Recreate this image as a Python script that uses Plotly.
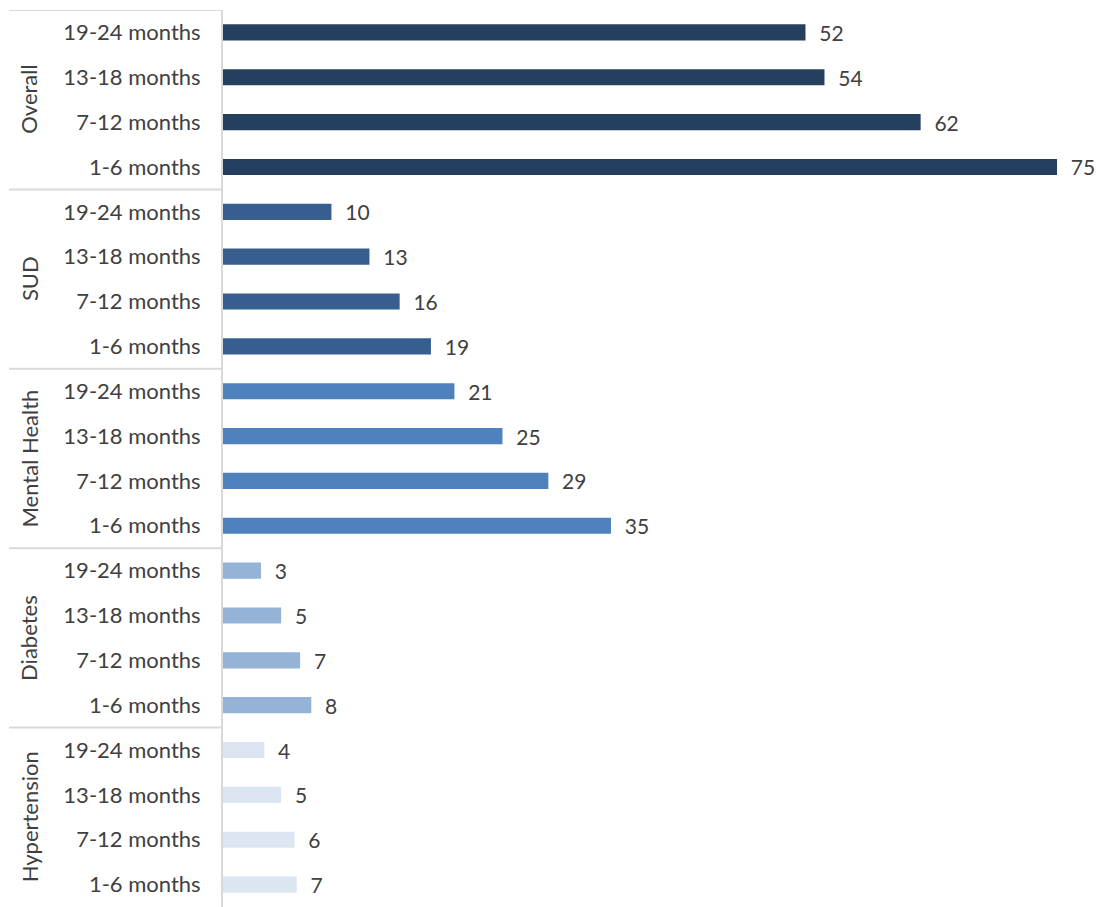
import plotly.graph_objects as go

groups = ["Overall", "SUD", "Mental Health", "Diabetes", "Hypertension"]
periods = ["19-24 months", "13-18 months", "7-12 months", "1-6 months"]
overall = [52.1, 53.8, 62.4, 74.6]
sud = [9.7, 13.1, 15.8, 18.6]
mental_health = [20.7, 25.0, 29.1, 34.7]
diabetes = [3.4, 5.2, 6.9, 7.9]
hypertension = [3.7, 5.2, 6.4, 6.6]
colors = ["#253F5E", "#365F90", "#4F81BD", "#95B3D7", "#DCE6F2"]

series = [overall, sud, mental_health, diabetes, hypertension]

FONT = "Lato"
TXT = "#404040"
GRID = "#D9D9D9"
FS = 22

W, H = 1098, 907
L = 223          # plot edge at page x=223
PW = W - L       # plot width in px
PX_PER_UNIT = 11.18

fig = go.Figure()
ticktext, tickvals = [], []
idx = 0
annotations = []
shapes = []
for g, vals, col in zip(groups, series, colors):
    ys = list(range(idx, idx + len(vals)))
    fig.add_trace(go.Bar(
        x=vals, y=ys, orientation="h", marker=dict(color=col, line=dict(width=0)),
        text=[f"{round(v)}" for v in vals], texttemplate="  %{text}",
        textposition="outside", cliponaxis=False, constraintext="none",
        textfont=dict(family=FONT, size=21, color=TXT), showlegend=False,
        hoverinfo="skip",
    ))
    ticktext += periods
    tickvals += ys
    annotations.append(dict(
        xref="paper", yref="y", x=(29 - L) / PW, y=(ys[0] + ys[-1]) / 2,
        text=g, textangle=-90, showarrow=False,
        font=dict(family=FONT, size=FS, color=TXT), xanchor="center", yanchor="middle",
    ))
    shapes.append(dict(
        type="line", xref="paper", yref="y", x0=(9 - L) / PW, x1=0,
        y0=idx - 0.5, y1=idx - 0.5, line=dict(color=GRID, width=2),
    ))
    idx += len(vals)

fig.update_layout(
    width=W, height=H,
    margin=dict(l=L, r=0, t=10, b=0, autoexpand=False),
    paper_bgcolor="white", plot_bgcolor="white",
    bargap=0.64,
    annotations=annotations, shapes=shapes,
    xaxis=dict(range=[0, PW / PX_PER_UNIT], visible=False, showgrid=False,
               zeroline=False, automargin=False),
    yaxis=dict(
        range=[idx - 0.5, -0.5], tickvals=tickvals, ticktext=ticktext,
        showline=True, linecolor=GRID, linewidth=2, ticks="", showgrid=False,
        zeroline=False, ticklabelstandoff=16, automargin=False,
        tickfont=dict(family=FONT, size=FS, color=TXT),
    ),
)

fig.write_html(
    "out.html",
    config={"displayModeBar": False},
    post_script="document.body.style.margin='0';document.body.style.overflow='hidden';",
)
